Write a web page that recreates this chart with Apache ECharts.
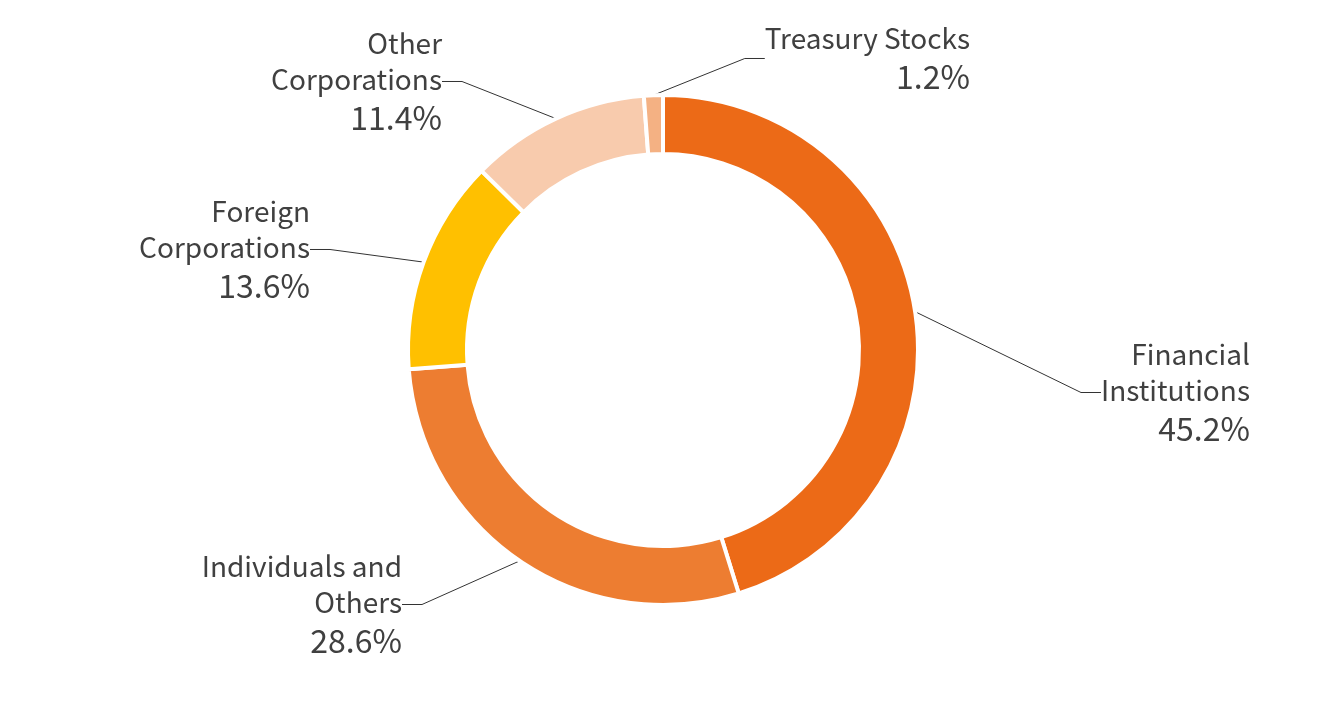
<!DOCTYPE html>
<html><head><meta charset="utf-8">
<script src="https://cdn.jsdelivr.net/npm/echarts@6/dist/echarts.min.js"></script>
<style>html,body{margin:0;background:#fff}#c{width:1328px;height:701px}</style>
</head><body><div id="c"></div>
<script>
// shareholder composition
var names = ['Financial\nInstitutions', 'Individuals and\nOthers', 'Foreign\nCorporations', 'Other\nCorporations', 'Treasury Stocks'];
var values = [45.2, 28.6, 13.6, 11.4, 1.2];
var colors = ['#EC6A17', '#ED7D31', '#FFC000', '#F8CBAD', '#F4B183'];
// label anchor (right edge, top)
var labelPos = [[1250, 336], [402, 548], [310, 193], [442, 25], [970, 20]];

var chart = echarts.init(document.getElementById('c'));
var data = names.map(function (n, i) {
  return { name: n, value: values[i], itemStyle: { color: colors[i] } };
});
chart.setOption({
  animation: false,
  series: [{
    type: 'pie',
    center: [663, 350],
    radius: [196, 255],
    startAngle: 90,
    clockwise: true,
    data: data,
    itemStyle: { borderColor: '#fff', borderWidth: 4 },
    label: {
      formatter: function (p) { return '{n|' + p.name + '}\n{v|' + p.value.toFixed(1) + '%}'; },
      align: 'right',
      fontFamily: 'Noto Sans CJK JP',
      rich: {
        n: { fontSize: 28, lineHeight: 36, color: '#404040', align: 'right', fontFamily: 'Noto Sans CJK JP' },
        v: { fontSize: 32, lineHeight: 42, color: '#404040', align: 'right', fontFamily: 'Noto Sans CJK JP' }
      }
    },
    labelLine: { show: true, length: 20, length2: 20, lineStyle: { color: '#333', width: 1 } },
    labelLayout: function (p) {
      var pos = labelPos[p.dataIndex];
      return { x: pos[0], y: pos[1], align: 'right', verticalAlign: 'top' };
    }
  }]
});
</script></body></html>
